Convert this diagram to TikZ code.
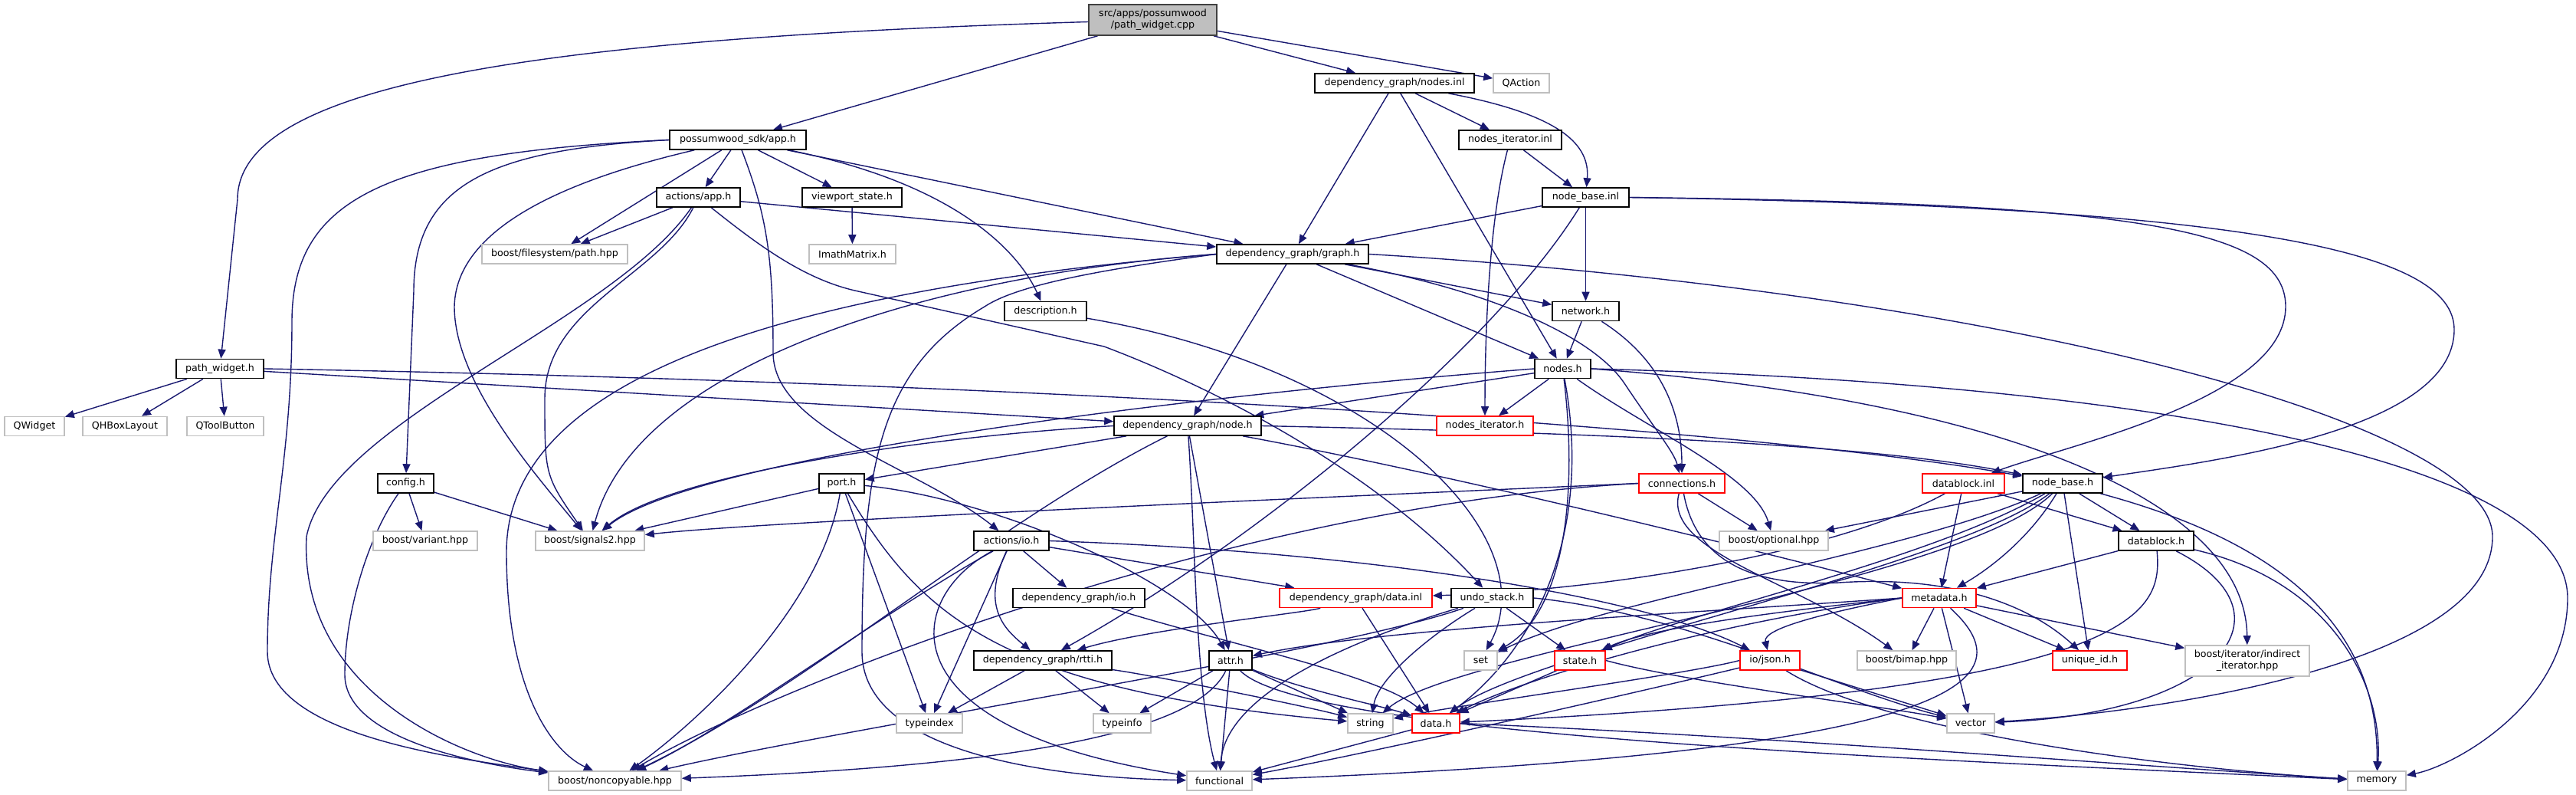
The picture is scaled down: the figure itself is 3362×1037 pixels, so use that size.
\documentclass[tikz,border=0pt]{standalone}
\usepackage{fontspec}
\setmainfont{DejaVu Sans}
\usetikzlibrary{arrows.meta,backgrounds}
\definecolor{edgec}{HTML}{191970}
\definecolor{extc}{HTML}{BFBFBF}
\definecolor{rootf}{HTML}{BFBFBF}
\definecolor{rootd}{HTML}{404040}
\tikzset{
 nb/.style={draw, rectangle, line width=1.2pt, minimum height=18.75pt, inner sep=1pt, font=\fontsize{9.5}{11}\selectfont, fill=white},
 doc/.style={nb, draw=black},
 ext/.style={nb, draw=extc},
 trn/.style={nb, draw=red},
 rootn/.style={nb, draw=rootd, fill=rootf, align=center, minimum height=30pt},
 wd/.style={minimum width=#1*0.75pt},
 e/.style={draw=edgec, line width=1.05pt, -{Triangle[length=9pt,width=7.5pt]}},
}
\begin{document}
\begin{tikzpicture}[x=0.75pt,y=-0.75pt]
\useasboundingbox (0,0) rectangle (3362,1037);
\node[rootn,wd=167] (cpp) at (1504.5,26) {src/apps/possumwood\\/path\_widget.cpp};
\node[doc,wd=208] (nodesinl) at (1820,108.5) {dependency\_graph/nodes.inl};
\node[ext,wd=73] (qaction) at (1985.5,108.5) {QAction};
\node[doc,wd=178] (app) at (963,182.5) {possumwood\_sdk/app.h};
\node[doc,wd=134] (nitinl) at (1971,182.5) {nodes\_iterator.inl};
\node[doc,wd=113] (nbinl) at (2069.5,257.5) {node\_base.inl};
\node[doc,wd=109] (aapp) at (911.5,257.5) {actions/app.h};
\node[doc,wd=130] (vps) at (1112,257.5) {viewport\_state.h};
\node[ext,wd=190] (fspath) at (724,331.5) {boost/filesystem/path.hpp};
\node[ext,wd=113] (imath) at (1112.5,331.5) {ImathMatrix.h};
\node[doc,wd=198] (graph) at (1687,331.5) {dependency\_graph/graph.h};
\node[doc,wd=107] (desc) at (1364.5,406) {description.h};
\node[doc,wd=87] (network) at (2069.5,406) {network.h};
\node[doc,wd=114] (pwh) at (287,481) {path\_widget.h};
\node[doc,wd=73] (nodesh) at (2039.5,481) {nodes.h};
\node[ext,wd=78] (qwidget) at (45,556) {QWidget};
\node[ext,wd=110] (qhbox) at (163,556) {QHBoxLayout};
\node[ext,wd=100] (qtool) at (294,556) {QToolButton};
\node[doc,wd=192] (node) at (1550,555.5) {dependency\_graph/node.h};
\node[trn,wd=126] (nith) at (1938,555.5) {nodes\_iterator.h};
\node[doc,wd=73] (config) at (529.5,630.5) {config.h};
\node[doc,wd=59] (port) at (1098.5,630.5) {port.h};
\node[trn,wd=112] (conn) at (2195,630.5) {connections.h};
\node[trn,wd=107] (dbinl) at (2562.5,630.5) {datablock.inl};
\node[doc,wd=104] (nbh) at (2692,630.5) {node\_base.h};
\node[ext,wd=136] (variant) at (555,705.5) {boost/variant.hpp};
\node[ext,wd=142] (signals) at (770,705.5) {boost/signals2.hpp};
\node[ext,wd=142] (optional) at (2315,705.5) {boost/optional.hpp};
\node[doc,wd=98] (dbh) at (2814,705.5) {datablock.h};
\node[doc,wd=98] (aio) at (1320,705.5) {actions/io.h};
\node[doc,wd=172] (dgio) at (1408,780) {dependency\_graph/io.h};
\node[trn,wd=199] (datainl) at (1769.5,780) {dependency\_graph/data.inl};
\node[doc,wd=107] (undo) at (1947.5,780) {undo\_stack.h};
\node[trn,wd=96] (metadata) at (2531,780) {metadata.h};
\node[doc,wd=180] (rtti) at (1361,861.5) {dependency\_graph/rtti.h};
\node[doc,wd=56] (attr) at (1606,861.5) {attr.h};
\node[ext,wd=43] (set) at (1932.5,861.5) {set};
\node[trn,wd=66] (state) at (2062,861.5) {state.h};
\node[trn,wd=78] (json) at (2310,861.5) {io/json.h};
\node[ext,wd=129] (bimap) at (2488.5,861.5) {boost/bimap.hpp};
\node[trn,wd=97] (uid) at (2727.5,861.5) {unique\_id.h};
\node[ext,wd=162,align=center,minimum height=30pt] (indirect) at (2933,862) {boost/iterator/indirect\\\_iterator.hpp};
\node[ext,wd=86] (typeindex) at (1213,943.5) {typeindex};
\node[ext,wd=75] (typeinfo) at (1464.5,943.5) {typeinfo};
\node[ext,wd=59] (string) at (1788.5,943.5) {string};
\node[trn,wd=62] (datah) at (1874,943.5) {data.h};
\node[ext,wd=62] (vector) at (2572,943.5) {vector};
\node[ext,wd=173] (noncopy) at (802.5,1018.5) {boost/noncopyable.hpp};
\node[ext,wd=85] (functional) at (1591.5,1018.5) {functional};
\node[ext,wd=76] (memory) at (3102,1018.5) {memory};
\begin{pgfonlayer}{background}
% cpp
\draw[e] (cpp) .. controls (700,50) and (310,110) .. (310,260) -- (pwh);
\draw[e] (cpp) -- (app);
\draw[e] (cpp) -- (nodesinl);
\draw[e] (cpp) -- (qaction);
% app
\draw[e] (app) -- (fspath);
\draw[e] (app) -- (aapp);
\draw[e] (app) -- (vps);
\draw[e] (app) -- (graph);
\draw[e] (app) .. controls (1250,240) and (1330,330) .. (desc);
\draw[e] (app.west) .. controls (640,195) and (540,240) .. (540,380) -- (config);
\draw[e] (app.west) .. controls (500,200) and (381,260) .. (381,420) .. controls (381,600) and (349,700) .. (349,850) .. controls (349,960) and (600,990) .. (noncopy);
\draw[e] (app) .. controls (760,230) and (595,290) .. (593,400) .. controls (593,500) and (700,620) .. (signals);
\draw[e] (app) .. controls (1000,280) and (1009,330) .. (1009,460) .. controls (1009,560) and (1200,610) .. (aio);
% aapp
\draw[e] (aapp) -- (fspath);
\draw[e] (aapp) -- (graph);
\draw[e] (aapp) .. controls (800,420) and (430,550) .. (400,700) .. controls (390,900) and (600,990) .. (noncopy);
\draw[e] (aapp) .. controls (860,360) and (711,400) .. (711,520) .. controls (711,620) .. (signals);
\draw[e] (aapp) .. controls (990,320) and (1050,365) .. (1120,380) -- (1441,452) .. controls (1600,512) and (1800,620) .. (undo);
\draw[e] (vps) -- (imath);
% nodes.inl
\draw[e] (nodesinl) -- (graph);
\draw[e] (nodesinl) -- (nodesh);
\draw[e] (nodesinl) -- (nitinl);
\draw[e] (nodesinl) .. controls (2040,150) and (2075,190) .. (nbinl);
\draw[e] (nitinl) -- (nbinl);
\draw[e] (nitinl) .. controls (1945,280) and (1938,420) .. (nith);
% node_base.inl
\draw[e] (nbinl) -- (graph);
\draw[e] (nbinl) -- (network);
\draw[e] (nbinl) .. controls (1950,450) and (1650,700) .. (rtti);
\draw[e] (nbinl.east) .. controls (2800,265) and (2983,300) .. (2983,400) .. controls (2983,520) and (2700,580) .. (dbinl);
\draw[e] (nbinl.east) .. controls (2950,270) and (3203,330) .. (3203,430) .. controls (3203,560) and (2900,600) .. (nbh);
% graph
\draw[e] (graph) -- (node);
\draw[e] (graph) -- (nodesh);
\draw[e] (graph) -- (network);
\draw[e] (graph) .. controls (1950,380) and (2080,440) .. (2120,500) .. controls (2160,560) and (2185,590) .. (conn);
\draw[e] (graph.west) .. controls (1200,360) and (830,480) .. (signals);
\draw[e] (graph.west) .. controls (1000,380) and (661,500) .. (661,720) .. controls (661,900) and (720,980) .. (noncopy);
\draw[e] (graph.west) .. controls (1450,350) and (1330,370) .. (1285,400) .. controls (1150,480) and (1125,600) .. (1125,850) .. controls (1125,990) and (1400,1015) .. (functional);
\draw[e] (graph.east) .. controls (2600,380) and (3253,550) .. (3253,700) .. controls (3253,870) and (2800,930) .. (vector);
% network, description
\draw[e] (network) -- (nodesh);
\draw[e] (network) .. controls (2170,470) and (2195,540) .. (conn);
\draw[e] (desc) .. controls (1800,480) and (2020,700) .. (set);
% path_widget.h
\draw[e] (pwh) -- (qwidget);
\draw[e] (pwh) -- (qhbox);
\draw[e] (pwh) -- (qtool);
\draw[e] (pwh) -- (node);
\draw[e] (pwh.east) .. controls (1400,500) and (2300,560) .. (nbh);
% nodes.h
\draw[e] (nodesh) -- (node);
\draw[e] (nodesh) -- (nith);
\draw[e] (nodesh) .. controls (2150,560) and (2290,620) .. (optional);
\draw[e] (nodesh.east) .. controls (2800,500) and (3351,600) .. (3351,780) .. controls (3351,920) and (3200,1000) .. (memory);
\draw[e] (nodesh.east) .. controls (2600,520) and (2931,650) .. (indirect);
\draw[e] (nodesh) .. controls (2060,650) and (2040,800) .. (set);
\draw[e] (nodesh) .. controls (2080,700) and (2000,850) .. (datah);
\draw[e] (nodesh.west) .. controls (1500,520) and (900,600) .. (signals);
% node.h
\draw[e] (node) -- (port);
\draw[e] (node) -- (attr);
\draw[e] (node.east) .. controls (2100,565) and (2450,580) .. (nbh);
\draw[e] (node) .. controls (1900,620) and (2300,720) .. (metadata);
\draw[e] (node.west) .. controls (1200,570) and (870,620) .. (signals);
\draw[e] (node) .. controls (1300,680) and (1050,900) .. (noncopy);
\draw[e] (node) .. controls (1560,700) and (1560,900) .. (functional);
% port.h
\draw[e] (port) -- (signals);
\draw[e] (port) .. controls (1070,800) and (900,950) .. (noncopy);
\draw[e] (port) -- (typeindex);
\draw[e] (port) .. controls (1200,800) and (1300,900) .. (string);
\draw[e] (port) .. controls (1300,650) and (1550,760) .. (attr);
% config.h
\draw[e] (config) -- (variant);
\draw[e] (config) -- (signals);
\draw[e] (config) .. controls (480,700) and (450,800) .. (450,880) .. controls (450,970) and (650,1000) .. (noncopy);
% connections.h
\draw[e] (conn.west) .. controls (1700,650) and (1000,680) .. (signals);
\draw[e] (conn.west) .. controls (1600,660) and (1000,900) .. (noncopy);
\draw[e] (conn) -- (optional);
\draw[e] (conn) .. controls (2170,720) and (2350,760) .. (bimap);
\draw[e] (conn) .. controls (2215,740) and (2300,765) .. (2400,760) .. controls (2550,750) and (2650,790) .. (uid);
% datablock.inl
\draw[e] (dbinl) -- (metadata);
\draw[e] (dbinl) -- (dbh);
\draw[e] (dbinl) .. controls (2400,720) and (2100,770) .. (datainl);
% node_base.h
\draw[e] (nbh) -- (optional);
\draw[e] (nbh) .. controls (2650,700) and (2600,740) .. (metadata);
\draw[e] (nbh) -- (uid);
\draw[e] (nbh) -- (dbh);
\draw[e] (nbh) .. controls (2500,720) and (2100,780) .. (set);
\draw[e] (nbh) .. controls (2520,730) and (2200,800) .. (state);
\draw[e] (nbh) .. controls (2550,740) and (2000,850) .. (datah);
\draw[e] (nbh) .. controls (2560,760) and (1900,850) .. (string);
\draw[e] (nbh) .. controls (2950,700) and (3105,800) .. (memory);
% datablock.h
\draw[e] (dbh) -- (metadata);
\draw[e] (dbh) .. controls (2822,800) and (2800,900) .. (datah);
\draw[e] (dbh) .. controls (3000,800) and (2900,930) .. (vector);
\draw[e] (dbh) .. controls (3050,760) and (3110,900) .. (memory);
% metadata.h
\draw[e] (metadata) -- (bimap);
\draw[e] (metadata) -- (vector);
\draw[e] (metadata) -- (uid);
\draw[e] (metadata) -- (indirect);
\draw[e] (metadata) .. controls (2640,880) and (2600,980) .. (functional);
\draw[e] (metadata.west) .. controls (2200,800) and (1800,820) .. (attr);
\draw[e] (metadata.west) .. controls (2300,800) and (2150,820) .. (state);
\draw[e] (metadata.west) .. controls (2250,810) and (2000,880) .. (datah);
\draw[e] (metadata.west) .. controls (2380,800) and (2300,820) .. (json);
% actions/io.h
\draw[e] (aio) -- (dgio);
\draw[e] (aio) .. controls (1280,790) and (1310,820) .. (rtti);
\draw[e] (aio) -- (typeindex);
\draw[e] (aio) .. controls (1150,800) and (950,950) .. (noncopy);
\draw[e] (aio) .. controls (1180,780) and (1150,950) .. (functional);
\draw[e] (aio) -- (datainl);
\draw[e] (aio.east) .. controls (1800,720) and (2150,780) .. (json);
% others
\draw[e] (dgio) .. controls (1600,840) and (1800,880) .. (datah);
\draw[e] (datainl) -- (datah);
\draw[e] (datainl) .. controls (1700,800) and (1500,820) .. (rtti);
\draw[e] (undo) .. controls (1750,850) and (1100,950) .. (noncopy);
\draw[e] (undo) .. controls (1780,830) and (1600,900) .. (functional);
\draw[e] (undo) .. controls (1880,820) and (1800,880) .. (string);
\draw[e] (undo) -- (state);
\draw[e] (undo.east) .. controls (2200,800) and (2400,900) .. (vector);
\draw[e] (rtti) -- (typeindex);
\draw[e] (rtti) -- (typeinfo);
\draw[e] (rtti) .. controls (1500,880) and (1700,920) .. (string);
\draw[e] (attr) -- (typeinfo);
\draw[e] (attr) -- (string);
\draw[e] (attr) -- (functional);
\draw[e] (attr) .. controls (1700,900) and (1800,920) .. (datah);
\draw[e] (attr) .. controls (1700,960) and (2500,990) .. (memory);
\draw[e] (attr) .. controls (1560,960) and (1300,1000) .. (noncopy);
\draw[e] (state) -- (datah);
\draw[e] (state.east) .. controls (2200,890) and (2450,920) .. (vector);
\draw[e] (json.west) .. controls (2200,880) and (1900,920) .. (string);
\draw[e] (json) .. controls (2150,900) and (1800,980) .. (functional);
\draw[e] (json) -- (vector);
\draw[e] (json) .. controls (2450,950) and (2800,1000) .. (memory);
\draw[e] (datah) -- (functional);
\draw[e] (datah.east) .. controls (2300,960) and (2800,1000) .. (memory);
\end{pgfonlayer}
\end{tikzpicture}
\end{document}
